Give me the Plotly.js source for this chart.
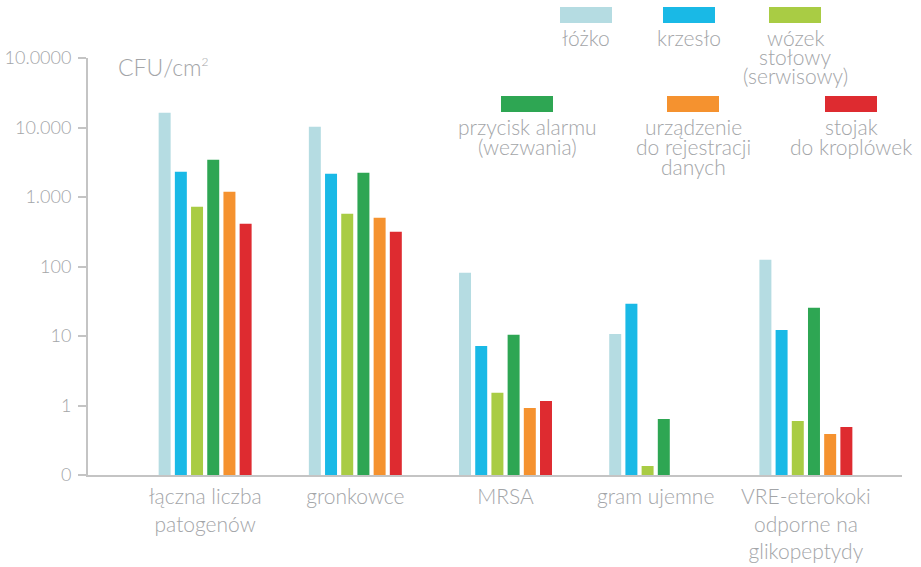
<!DOCTYPE html>
<html>
<head>
<meta charset="utf-8">
<script src="https://cdn.plot.ly/plotly-3.0.1.min.js"></script>
<style>html,body{margin:0;padding:0;background:#fff;}#chart{width:921px;height:567px;}</style>
</head>
<body>
<div id="chart"></div>
<script>
// ---- data ----
const categories = ['łączna liczba<br>patogenów', 'gronkowce', 'MRSA', 'gram ujemne', 'VRE-eterokoki<br>odporne na<br>glikopeptydy'];
const seriesNames = ['łóżko', 'krzesło', 'wózek stołowy (serwisowy)', 'przycisk alarmu (wezwania)', 'urządzenie do rejestracji danych', 'stojak do kroplówek'];
const seriesLabelLines = [['łóżko'], ['krzesło'], ['wózek', 'stołowy', '(serwisowy)'], ['przycisk alarmu', '(wezwania)'], ['urządzenie', 'do rejestracji', 'danych'], ['stojak', 'do kroplówek']];
const lozko      = [16300, 10250, 81, 10.7, 125];
const krzeslo    = [2310, 2158, 7.2, 29, 12.2];
const wozek      = [723, 573, 1.52, 0.135, 0.60];
const przycisk   = [3435, 2230, 10.4, 0.64, 25.4];
const urzadzenie = [1189, 502, 0.92, null, 0.39];
const stojak     = [411, 316, 1.16, null, 0.49];
const seriesValues = [lozko, krzeslo, wozek, przycisk, urzadzenie, stojak];
const tickVals = [0.1, 1, 10, 100, 1000, 10000, 100000];
const tickText = ['0', '1', '10', '100', '1.000', '10.000', '10.0000'];
const yUnit = 'CFU/cm<sup><span style="font-size:12px">2</span></sup>';

// ---- style ----
const colors = ['#b5dce2', '#19b9e6', '#a9cc44', '#2ea653', '#f5922f', '#de2b30'];
const gray = '#a3a5a8';
const axisGray = '#c4c4c4';
const W = 921, H = 567;
const M = {l: 88, r: 19, t: 58, b: 92};
const font = 'Lato, "Open Sans", sans-serif';
const fw = 300;

const traces = seriesValues.map((vals, i) => ({
  type: 'bar',
  name: seriesNames[i],
  x: categories,
  y: vals,
  marker: {color: colors[i]},
  showlegend: false,
  hoverinfo: 'x+y+name'
}));

// legend drawn as shapes + annotations (pixel layout -> paper coords)
const px = x => (x - M.l) / (W - M.l - M.r);
const py = y => (H - M.b - y) / (H - M.t - M.b);
const legendCenters = [[586, 0], [689, 0], [795, 0], [527, 1], [693, 1], [851, 1]];
const rowRectTop = [7, 96];
const rowTextTop = [37, 127];
const shapes = [];
const annotations = [];
legendCenters.forEach(([cx, row], i) => {
  shapes.push({type: 'rect', xref: 'paper', yref: 'paper',
    x0: px(cx - 26), x1: px(cx + 26), y0: py(rowRectTop[row] + 16), y1: py(rowRectTop[row]),
    fillcolor: colors[i], line: {width: 0}});
  seriesLabelLines[i].forEach((ln, j) => {
    annotations.push({xref: 'paper', yref: 'paper', x: px(cx), y: py(rowTextTop[row] + j * 19.5),
      xanchor: 'center', yanchor: 'middle', showarrow: false, text: ln,
      font: {family: font, size: 21, weight: fw, color: gray}});
  });
});
annotations.push({xref: 'paper', yref: 'paper', x: px(116), y: py(67), xanchor: 'left', yanchor: 'middle',
  showarrow: false, text: yUnit, font: {family: font, size: 23, weight: fw, color: gray}});

const layout = {
  width: W, height: H,
  margin: M,
  paper_bgcolor: '#fff', plot_bgcolor: '#fff',
  font: {family: font, color: gray, weight: fw},
  barmode: 'group',
  bargap: 0.353,
  bargroupgap: 0.26,
  showlegend: false,
  xaxis: {
    type: 'category',
    range: [-0.78, 4.64],
    showline: true, linecolor: axisGray, linewidth: 2,
    ticks: '', showgrid: false, zeroline: false,
    tickfont: {family: font, size: 21, weight: fw, color: gray},
    ticklabelstandoff: 2
  },
  yaxis: {
    type: 'log',
    range: [-1, 5],
    tickvals: tickVals, ticktext: tickText,
    showline: true, linecolor: axisGray, linewidth: 2,
    ticks: 'outside', ticklen: 8, tickwidth: 2, tickcolor: axisGray,
    showgrid: false, zeroline: false,
    tickfont: {family: font, size: 18, weight: fw, color: gray},
    ticklabelstandoff: 3
  },
  shapes: shapes,
  annotations: annotations
};

Plotly.newPlot('chart', traces, layout, {displayModeBar: false, staticPlot: true});
</script>
</body>
</html>
